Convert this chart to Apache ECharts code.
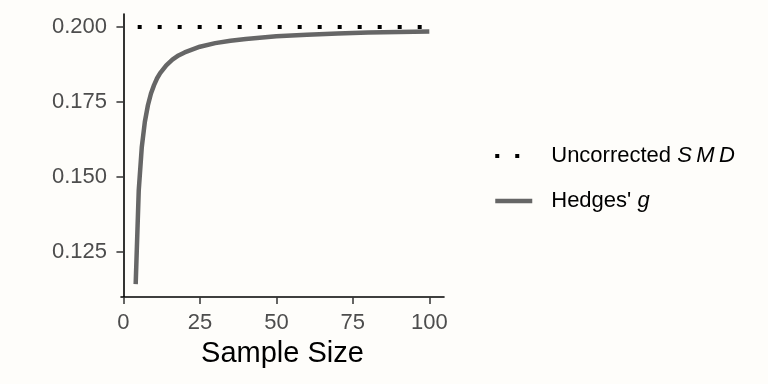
<!DOCTYPE html>
<html>
<head>
<meta charset="utf-8">
<script src="https://cdn.jsdelivr.net/npm/echarts@6/dist/echarts.min.js"></script>
<style>
html,body{margin:0;padding:0;background:#FEFDFA;}
#chart{width:768px;height:384px;}
</style>
</head>
<body>
<div id="chart"></div>
<script>
// Data
const sampleSizes = [4,5,6,7,8,9,10,11,12,14,16,18,20,25,30,35,40,50,60,70,80,90,100];
const hedgesG = [0.1143,0.1455,0.1600,0.1684,0.1739,0.1778,0.1806,0.1829,0.1846,0.1872,0.1891,0.1905,0.1915,0.1934,0.1946,0.1954,0.1960,0.1969,0.1974,0.1978,0.1981,0.1983,0.1985];
const uncorrectedN = [4,100];
const uncorrectedSMD = [0.2,0.2];
const xTicks = [0,25,50,75,100];
const yTicks = [0.125,0.150,0.175,0.200];
const seriesNames = ['Uncorrected SMD', "Hedges' g"];

const font = 'Liberation Sans, Arial, sans-serif';
const chart = echarts.init(document.getElementById('chart'), null, {renderer:'canvas'});

const gData = sampleSizes.map((n,i)=>[n,hedgesG[i]]);
const uData = uncorrectedN.map((n,i)=>[n,uncorrectedSMD[i]]);

chart.setOption({
  backgroundColor:'#FEFDFA',
  animation:false,
  textStyle:{fontFamily:font},
  grid:{left:121,right:324,top:14,bottom:87},
  xAxis:{
    type:'value', min:-0.8, max:104.8,
    name:'Sample Size', nameLocation:'middle', nameGap:42,
    nameTextStyle:{fontSize:29,color:'#000',fontFamily:font},
    axisLine:{show:true,lineStyle:{color:'#000',width:1.6}},
    axisTick:{show:true,customValues:xTicks,length:7,lineStyle:{color:'#333',width:1.5}},
    axisLabel:{customValues:xTicks,fontSize:22,color:'#4D4D4D',margin:15,fontFamily:font},
    splitLine:{show:false}
  },
  yAxis:{
    type:'value', min:0.110, max:0.2043,
    axisLine:{show:true,lineStyle:{color:'#000',width:1.6}},
    axisTick:{show:true,customValues:yTicks,length:7,lineStyle:{color:'#333',width:1.5}},
    axisLabel:{customValues:yTicks,fontSize:22,color:'#4D4D4D',margin:14,fontFamily:font,
      formatter:v=>v.toFixed(3)},
    splitLine:{show:false}
  },
  legend:{
    orient:'vertical', left:493, top:143, padding:0,
    itemWidth:37, itemHeight:14, itemGap:19,
    itemStyle:{opacity:0},
    data:[
      {name:seriesNames[0], itemStyle:{opacity:0}, lineStyle:{width:4,color:'#000',type:[4,16],dashOffset:0,cap:'butt'}},
      {name:seriesNames[1], itemStyle:{opacity:0}, lineStyle:{width:4.5,color:'#666666',type:'solid',cap:'butt'}}
    ],
    textStyle:{fontSize:22,color:'#000',fontFamily:font,lineHeight:26,
      rich:{
        s:{width:14},
        n:{fontSize:22,color:'#000',fontFamily:font},
        i:{fontSize:22,color:'#000',fontFamily:font,fontStyle:'italic'}
      }},
    formatter:name=> name===seriesNames[0] ? '{s|}{n|Uncorrected }{i|S\u2009M\u2009D}' : "{s|}{n|Hedges' }{i|g}"
  },
  series:[
    {
      name:seriesNames[0], type:'line', data:uData, symbol:'none',
      lineStyle:{color:'#000',width:4,type:[4,16],dashOffset:18,cap:'butt'},
      itemStyle:{color:'#000'}, z:3
    },
    {
      name:seriesNames[1], type:'line', data:gData, symbol:'none', smooth:false,
      lineStyle:{color:'#666666',width:4.5,cap:'butt',join:'round'},
      itemStyle:{color:'#666666'}, z:2
    }
  ]
});
</script>
</body>
</html>
